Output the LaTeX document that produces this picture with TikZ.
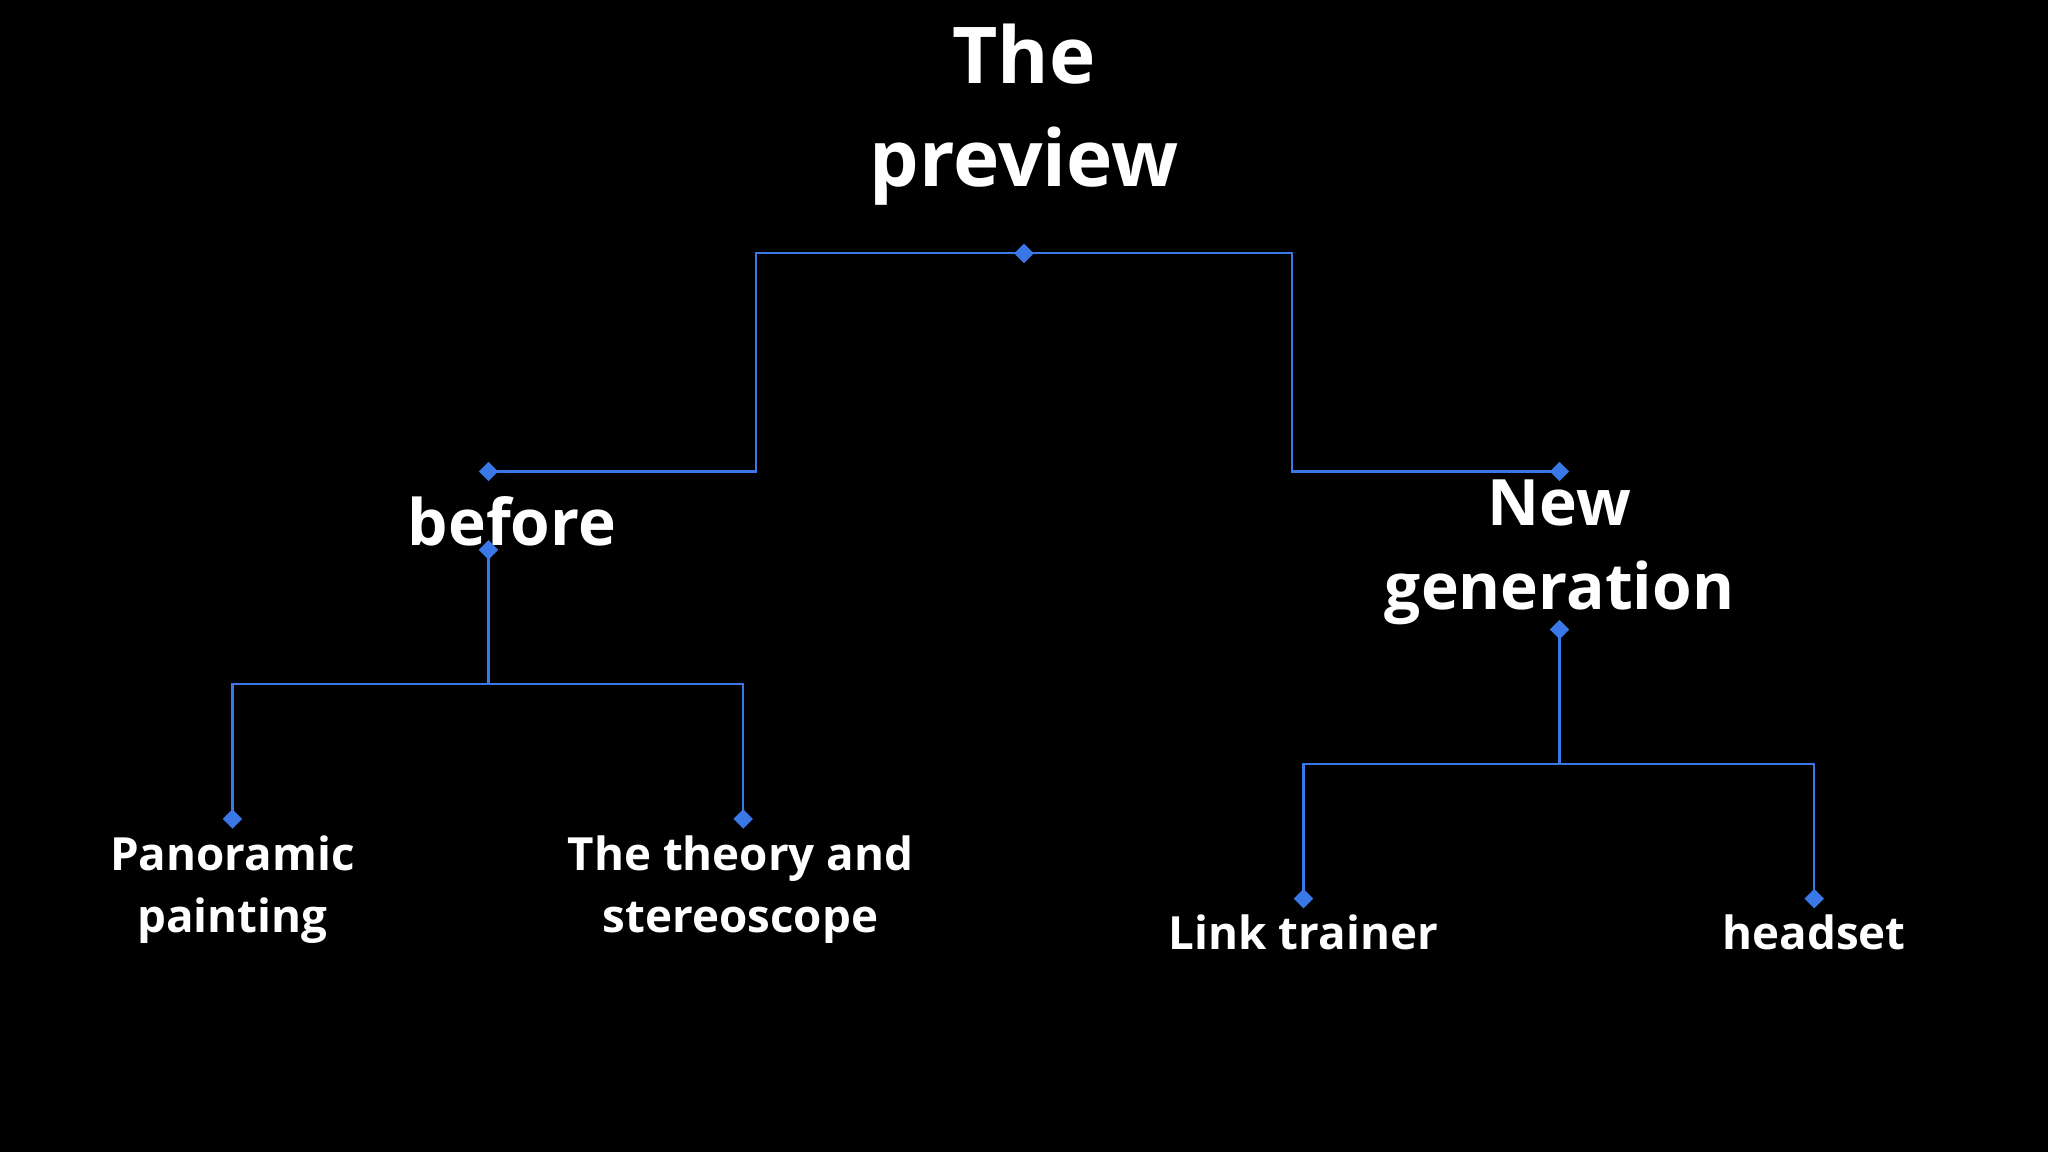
\documentclass[tikz,border=0pt]{standalone}
\usepackage{fontspec}
\setmainfont{Open Sans}
\usetikzlibrary{shapes.geometric}
\definecolor{ln}{HTML}{3B78E7}
\tikzset{
  dia/.style={diamond,fill=ln,inner sep=0pt,minimum size=15pt},
  wire/.style={draw=ln,line width=1.6pt},
  big/.style={text=white,font=\fontsize{60}{79}\selectfont\bfseries,align=center},
  mid/.style={text=white,font=\fontsize{49}{64}\selectfont\bfseries,align=center},
  sm/.style={text=white,font=\fontsize{35}{48}\selectfont\bfseries,align=center}
}
\begin{document}
\begin{tikzpicture}[x=1pt,y=-1pt]
\fill[black] (0,0) rectangle (1568,882);
\useasboundingbox (0,0) rectangle (1568,882);
\node[big] (t) at (784,88) {The\\preview};
\node[mid] (b) at (392,399) {before};
\node[mid] (n) at (1194,423) {New\\generation};
\node[sm] (p) at (178,681) {Panoramic\\painting};
\node[sm] (s) at (567,681) {The theory and\\stereoscope};
\node[sm] (l) at (998,714) {Link trainer};
\node[sm] (h) at (1389,714) {headset};
\coordinate (d0) at (784,194);
\coordinate (d1) at (374,361);
\coordinate (d2) at (1194,361);
\coordinate (d3) at (374,421);
\coordinate (d4) at (1194,482);
\coordinate (d5) at (178,627);
\coordinate (d6) at (569,627);
\coordinate (d7) at (998,688);
\coordinate (d8) at (1389,688);
\draw[wire] (d1) -- (579,361) -- (579,194) -- (989,194) -- (989,361) -- (d2);
\draw[wire] (d3) -- (374,524);
\draw[wire] (d5) -- (178,524) -- (569,524) -- (d6);
\draw[wire] (d4) -- (1194,585);
\draw[wire] (d7) -- (998,585) -- (1389,585) -- (d8);
\foreach \d in {d0,d1,d2,d3,d4,d5,d6,d7,d8} \node[dia] at (\d) {};
\end{tikzpicture}
\end{document}
